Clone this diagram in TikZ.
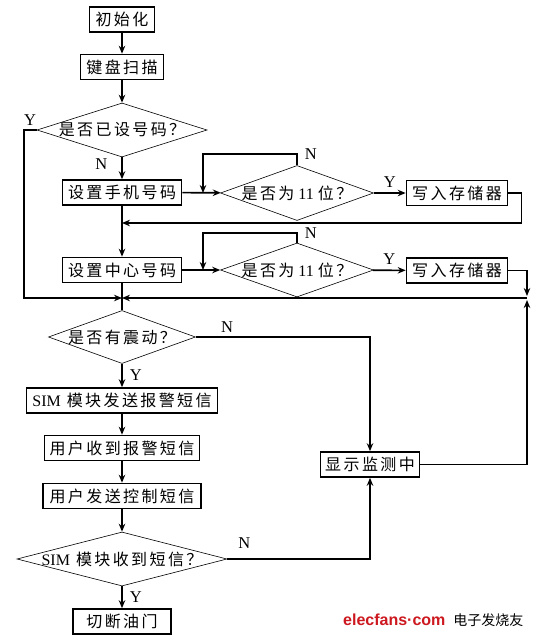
\documentclass[tikz,border=0pt]{standalone}
\usepackage{fontspec}
\setmainfont{Liberation Serif}
\newfontfamily\cjk{Noto Sans CJK SC}[LetterSpace=15]
\newfontfamily\logocjk{Noto Sans CJK SC}
\newfontfamily\logofont{Liberation Sans}
\usepackage{tikz}
\usetikzlibrary{shapes.geometric, arrows.meta}
\usepackage{xcolor}
\definecolor{logored}{RGB}{204,24,30}
\newcommand{\dtext}[1]{\makebox[0pt]{#1}}

\begin{document}
\begin{tikzpicture}[x=1pt, y=-1pt,
    % Base styles
    basebox/.style={align=center, inner sep=0pt, font=\fontsize{16}{18}\selectfont\cjk},
    % Rectangle for processing steps
    procbox/.style={basebox, rectangle, draw, line width=1.6pt, minimum height=25pt},
    % Diamond for decisions (fixed size, text may overhang)
    decbox/.style={basebox, diamond, draw, line width=0.6pt},
    % Arrow style
    arrow/.style={->, >={Stealth[length=8pt, width=6.5pt]}, line width=1.6pt},
    flowline/.style={line width=1.6pt},
    % Yes/No labels
    yn/.style={font=\fontsize{16.5}{16}\selectfont, inner sep=0pt},
]
\useasboundingbox (0,0) rectangle (546,640);

% Main column
\node[procbox, minimum width=65pt] (init) at (122,19.5) {初始化};
\node[procbox, minimum width=83pt] (scan) at (122,67) {键盘扫描};
\node[decbox, minimum width=170pt, minimum height=54pt] (ask) at (122,130) {\dtext{是否已设号码？}};
\node[procbox, minimum width=119pt] (setphone) at (122,192.5) {设置手机号码};
\node[procbox, minimum width=119pt] (setcenter) at (122,270) {设置中心号码};
\node[decbox, minimum width=147pt, minimum height=53pt] (shake) at (122,337) {\dtext{是否有震动？}};
\node[procbox, minimum width=191pt] (alarm) at (122,400.5) {{\rmfamily SIM}~模块发送报警短信};
\node[procbox, minimum width=155pt] (recv) at (122,448) {用户收到报警短信};
\node[procbox, minimum width=158pt] (ctrl) at (122,496) {用户发送控制短信};
\node[decbox, minimum width=210pt, minimum height=54pt] (simrecv) at (122,559) {\dtext{{\rmfamily SIM}~模块收到短信？}};
\node[procbox, minimum width=98pt] (cutoff) at (122,621.5) {切断油门};

% Number checks and storing
\node[decbox, minimum width=153pt, minimum height=55pt] (len1) at (297,193) {\dtext{是否为{\rmfamily\ 11\ }位？}};
\node[procbox, minimum width=101pt] (store1) at (457,193) {写入存储器};
\node[decbox, minimum width=153pt, minimum height=54pt] (len2) at (297,270) {\dtext{是否为{\rmfamily\ 11\ }位？}};
\node[procbox, minimum width=101pt] (store2) at (457,270.5) {写入存储器};
\node[procbox, minimum width=99pt] (monitor) at (370,464.5) {显示监测中};

% Junction points
\coordinate (join) at (122,298);
\coordinate (rjoin) at (527,298);
\coordinate (rtop) at (527,296);
\coordinate (rbot) at (527,300);
\coordinate (loop1) at (203,193);
\coordinate (loop2) at (203,270);
\coordinate (back1) at (122,223);

% Top part
\draw[arrow] (init) -- (scan);
\draw[arrow] (scan) -- (ask);
\draw[arrow] (ask) -- node[yn, pos=0.3, left=14pt] {N} (setphone);
\draw[arrow] (ask.west) -- node[yn, above=4pt] {Y} ++(-13,0) |- (join);

% Phone number
\draw[arrow] (setphone) -- (len1);
\draw[arrow] (len1.north) -- ++(0,-11) node[yn, right=7pt] {N} -| (loop1);
\draw[arrow] (len1) -- node[yn, above=5pt] {Y} (store1);
\draw[arrow] (store1.east) -- ++(13,0) |- (back1);
\draw[arrow] (setphone) -- (setcenter);

% Centre number
\draw[arrow] (setcenter) -- (len2);
\draw[arrow] (len2.north) -- ++(0,-10) node[yn, right=7pt] {N} -| (loop2);
\draw[arrow] (len2) -- node[yn, above=5pt] {Y} (store2);
\draw[arrow] (store2.east) -| (rtop);
\draw[arrow] (monitor.east) -| (rbot);
\draw[arrow] (rjoin) -- (join);
\draw[flowline] (setcenter) -- (shake);

% Alarm part
\draw[arrow] (shake) -- node[yn, right=7pt] {Y} (alarm);
\draw[arrow] (shake.east) -| node[yn, above=4pt, pos=0.09] {N} (monitor);
\draw[arrow] (alarm) -- (recv);
\draw[arrow] (recv) -- (ctrl);
\draw[arrow] (ctrl) -- (simrecv);
\draw[arrow] (simrecv) -- node[yn, right=7pt] {Y} (cutoff);
\draw[arrow] (simrecv.east) -| node[yn, above=10pt, pos=0.06] {N} (monitor);

% Watermark
\node[anchor=west, inner sep=0pt] (logo) at (343,620) {\logofont\bfseries\fontsize{16}{16}\selectfont\color{logored}elecfans·com\hspace{8pt}\color{black}\mdseries\logocjk\fontsize{14}{14}\selectfont 电子发烧友};

\end{tikzpicture}
\end{document}
